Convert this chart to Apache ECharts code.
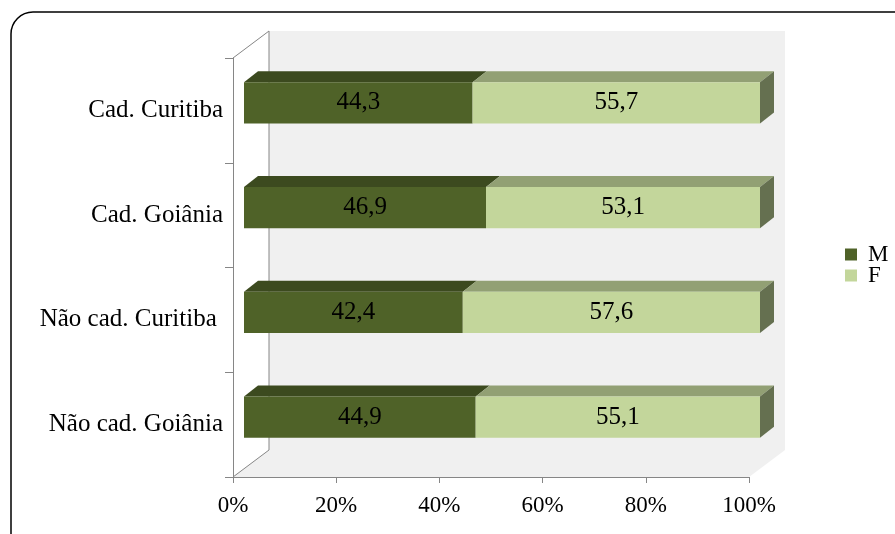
<!DOCTYPE html>
<html>
<head>
<meta charset="utf-8">
<script src="https://cdn.jsdelivr.net/npm/echarts@6/dist/echarts.min.js"></script>
<style>html,body{margin:0;padding:0;background:#fff;}#c{width:895px;height:534px;}</style>
</head>
<body>
<div id="c"></div>
<script>
const categories = ['Não cad. Goiânia', 'Não cad. Curitiba ', 'Cad. Goiânia', 'Cad. Curitiba'];
const seriesM = [44.9, 42.4, 46.9, 44.3];
const seriesF = [55.1, 57.6, 53.1, 55.7];
const seriesNames = ['M', 'F'];
const xTicks = [0, 20, 40, 60, 80, 100];

const FONT = '"Liberation Serif", "Times New Roman", serif';
// layout (pixels)
const AX = { left: 233, right: 749, top: 58, bottom: 477 };
const WALL = { dx: 36, dy: -27 };
const BAR_SHIFT = { dx: 11, dy: -7.5 };
const BAR_DEPTH = { dx: 14, dy: -11 };
const W = 895, H = 534;

const colM = { front: '#4f6228', top: '#3c4a1f', side: '#3a4620' };
const colF = { front: '#c3d69b', top: '#92a074', side: '#657050' };

function fmt(v) { return v.toFixed(1).replace('.', ','); }

function render3D(col, isLast) {
  return function (params, api) {
    const cat = api.value(0), s = api.value(1), e = api.value(2), v = api.value(3);
    const p0 = api.coord([s, cat]);
    const p1 = api.coord([e, cat]);
    const h = api.size([0, 1])[1] * 0.395;
    const x0 = p0[0], x1 = p1[0], yc = p0[1];
    const y0 = yc - h / 2, y1 = yc + h / 2;
    const dx = BAR_DEPTH.dx, dy = BAR_DEPTH.dy;
    const children = [
      { type: 'polygon', shape: { points: [[x0, y0], [x1, y0], [x1 + dx, y0 + dy], [x0 + dx, y0 + dy]] }, style: { fill: col.top } },
      { type: 'rect', shape: { x: x0, y: y0, width: x1 - x0, height: h }, style: { fill: col.front } }
    ];
    if (isLast) {
      children.push({ type: 'polygon', shape: { points: [[x1, y0], [x1 + dx, y0 + dy], [x1 + dx, y1 + dy], [x1, y1]] }, style: { fill: col.side } });
    }
    children.push({ type: 'text', style: { text: fmt(v), x: (x0 + x1) / 2, y: yc, align: 'center', verticalAlign: 'middle', fontFamily: FONT, fontSize: 25, fill: '#000' } });
    return { type: 'group', children: children };
  };
}

const dataM = categories.map((c, i) => [i, 0, seriesM[i], seriesM[i]]);
const dataF = categories.map((c, i) => [i, seriesM[i], seriesM[i] + seriesF[i], seriesF[i]]);

const axisGray = '#868686';

const graphicEls = [
  { type: 'rect', z: 1, shape: { x: AX.left + WALL.dx, y: AX.top + WALL.dy, width: AX.right - AX.left, height: AX.bottom - AX.top }, style: { fill: '#f0f0f0' } },
  { type: 'polygon', z: 1, shape: { points: [[AX.left, AX.bottom], [AX.right, AX.bottom], [AX.right + WALL.dx, AX.bottom + WALL.dy], [AX.left + WALL.dx, AX.bottom + WALL.dy]] }, style: { fill: '#f0f0f0' } },
  { type: 'polyline', z: 2, shape: { points: [[AX.left, AX.top], [AX.left + WALL.dx, AX.top + WALL.dy], [AX.left + WALL.dx, AX.bottom + WALL.dy], [AX.left, AX.bottom]] }, style: { stroke: axisGray, lineWidth: 1, fill: null } },
  { type: 'rect', z: 10, shape: { x: 11, y: 12, width: 1000, height: 1000, r: 22 }, style: { fill: null, stroke: '#000', lineWidth: 1.5 } }
];

const chart = echarts.init(document.getElementById('c'), null, { renderer: 'canvas' });
chart.setOption({
  animation: false,
  backgroundColor: '#fff',
  graphic: { elements: graphicEls },
  grid: [
    { left: AX.left, right: W - AX.right, top: AX.top, bottom: H - AX.bottom, containLabel: false },
    { left: AX.left + BAR_SHIFT.dx, right: W - AX.right - BAR_SHIFT.dx, top: AX.top + BAR_SHIFT.dy, bottom: H - AX.bottom - BAR_SHIFT.dy, containLabel: false }
  ],
  xAxis: [
    { type: 'value', gridIndex: 0, min: xTicks[0], max: xTicks[xTicks.length - 1], interval: xTicks[1] - xTicks[0], z: 3,
      axisLine: { show: true, lineStyle: { color: axisGray, width: 1 } },
      axisTick: { show: true, length: 6, lineStyle: { color: axisGray } },
      splitLine: { show: false },
      axisLabel: { formatter: '{value}%', fontFamily: FONT, fontSize: 23, color: '#000', margin: 17 } },
    { type: 'value', gridIndex: 1, min: 0, max: 100, show: false }
  ],
  yAxis: [
    { type: 'category', gridIndex: 0, data: categories, z: 3,
      axisLine: { show: true, lineStyle: { color: axisGray, width: 1 } },
      axisTick: { show: true, length: 8, lineStyle: { color: axisGray } },
      axisLabel: { fontFamily: FONT, fontSize: 25, color: '#000', margin: 10 } },
    { type: 'category', gridIndex: 1, data: categories, show: false }
  ],
  legend: {
    orient: 'vertical', left: 840, top: 238, itemWidth: 12, itemHeight: 12, itemGap: -2, icon: 'rect',
    data: seriesNames,
    textStyle: { fontFamily: FONT, fontSize: 23, color: '#000', lineHeight: 20, padding: [0, 0, 0, 6] }
  },
  series: [
    { name: seriesNames[0], type: 'custom', xAxisIndex: 1, yAxisIndex: 1, z: 4, itemStyle: { color: colM.front },
      renderItem: render3D(colM, false), data: dataM, encode: { x: [1, 2], y: 0 } },
    { name: seriesNames[1], type: 'custom', xAxisIndex: 1, yAxisIndex: 1, z: 4, itemStyle: { color: colF.front },
      renderItem: render3D(colF, true), data: dataF, encode: { x: [1, 2], y: 0 } }
  ]
});
</script>
</body>
</html>
